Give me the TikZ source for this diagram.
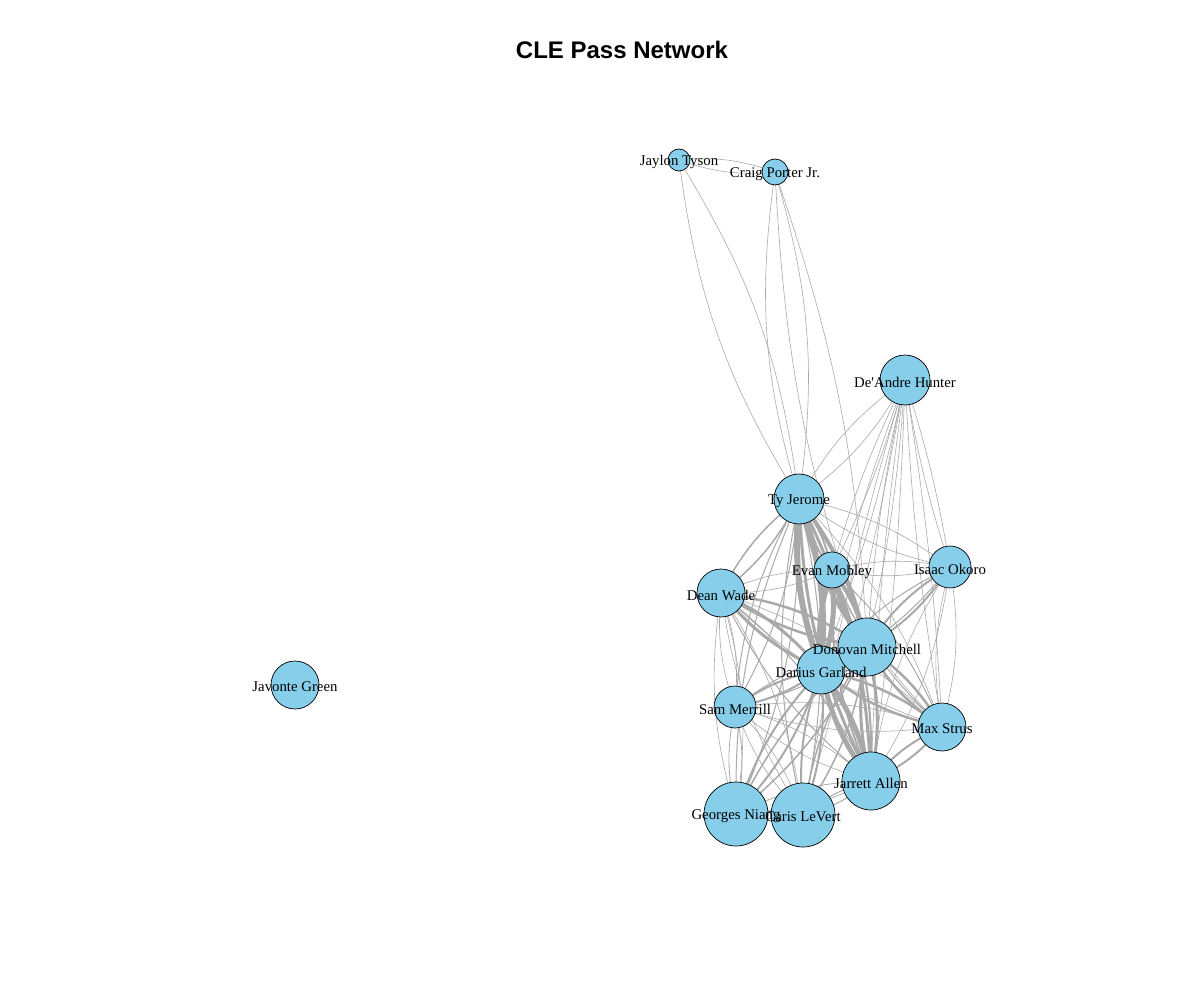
\documentclass[tikz,border=0pt]{standalone}
\usepackage{fontspec}
\setmainfont{Liberation Serif}
\newfontfamily\titlefont{Liberation Sans}

\definecolor{passgray}{HTML}{A9A9A9}
\definecolor{playerblue}{HTML}{87CEEB}

\tikzset{%
  every player/.style={
    circle,
    draw=black,
    fill=playerblue,
    line width=0.7pt,
    inner sep=0pt,
    outer sep=0pt
  },
  player name/.style={
    inner sep=0pt,
    yshift=-2pt,
    font=\fontsize{14.8}{17}\selectfont
  },
  pass/.style={
    draw=passgray
  },
}

\begin{document}
\begin{tikzpicture}[x=1pt, y=-1pt]
\useasboundingbox (0,0) rectangle (1200,1000);

\node [font=\titlefont\bfseries\fontsize{24}{28}\selectfont] (title) at (622,50) {CLE Pass Network};

\foreach \n/\x/\y in {tyson/679/160, porter/775/172, hunter/905/380,
    jerome/799/499, mobley/832/570, okoro/950/567, wade/721/593,
    garland/821/670, mitchell/867/647, merrill/735/707, strus/942/727,
    allen/871/781, niang/736/814, levert/803/815, green/295/685}
  \coordinate (\n-c) at (\x,\y);

\foreach \a/\b/\w/\k in {tyson/porter/0.6/12, tyson/jerome/0.6/12, porter/jerome/0.6/12,
    porter/mitchell/0.6/8,
    hunter/jerome/0.6/12, hunter/mobley/0.6/5, hunter/mitchell/0.6/4, hunter/garland/0.6/4,
    hunter/allen/0.6/3, hunter/strus/0.6/3, hunter/okoro/0.6/4, hunter/levert/0.6/3,
    jerome/garland/6/12, jerome/mitchell/4/12, jerome/mobley/2/12, jerome/wade/1.5/12,
    jerome/allen/3/12, jerome/okoro/0.6/12, jerome/strus/0.6/12, jerome/merrill/1/12,
    jerome/niang/1/12, jerome/levert/1/12,
    mobley/garland/5/12, mobley/mitchell/4/12, mobley/allen/2/12, mobley/okoro/0.6/12,
    mobley/wade/0.6/12, mobley/strus/1/12,
    wade/garland/3/12, wade/mitchell/2.5/12, wade/merrill/0.6/12, wade/niang/0.6/12,
    wade/allen/1/12, wade/levert/0.6/12, wade/strus/0.6/12,
    okoro/mitchell/2/12, okoro/garland/1/12, okoro/strus/0.6/12, okoro/allen/0.6/12,
    mitchell/garland/3/12, mitchell/allen/3/12, mitchell/strus/2.5/12, mitchell/niang/1.5/12,
    mitchell/levert/1.5/12, mitchell/merrill/1/12,
    garland/allen/5/12, garland/strus/2.5/12, garland/merrill/2/12, garland/niang/2/12,
    garland/levert/2/12,
    merrill/niang/0.8/12, merrill/levert/0.6/12, merrill/allen/0.6/12, merrill/strus/0.6/12,
    strus/allen/2/12, allen/levert/1/12, allen/niang/0.8/12, niang/levert/0.6/12}
{
  \draw [pass, line width=\w pt] (\a-c) to [bend left=\k] (\b-c);
  \draw [pass, line width=\w pt] (\b-c) to [bend left=\k] (\a-c);
}

\foreach \n/\d in {tyson/22, porter/26, hunter/50, jerome/50, mobley/36, okoro/42,
    wade/48, garland/48, mitchell/58, merrill/42, strus/48, allen/58,
    niang/64, levert/64, green/48}
  \node [every player, minimum size=\d pt] (\n) at (\n-c) {};

\foreach \n/\l in {tyson/Jaylon Tyson, porter/Craig Porter Jr., hunter/De\textquotesingle Andre Hunter,
    jerome/Ty Jerome, mobley/Evan Mobley, okoro/Isaac Okoro, wade/Dean Wade,
    garland/Darius Garland, mitchell/Donovan Mitchell, merrill/Sam Merrill,
    strus/Max Strus, allen/Jarrett Allen, niang/Georges Niang,
    levert/Caris LeVert, green/Javonte Green}
  \node [player name] (\n-l) at (\n) {\l};

\end{tikzpicture}
\end{document}
